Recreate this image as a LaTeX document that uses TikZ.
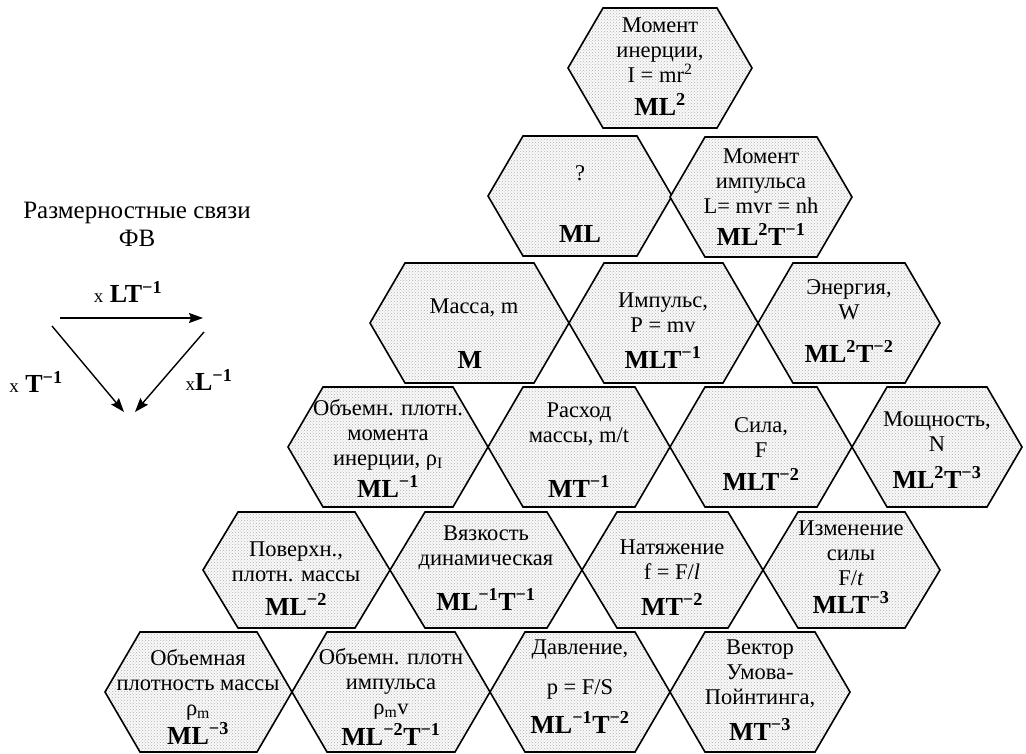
\documentclass[tikz,border=0pt]{standalone}
\usepackage{fontspec}
\setmainfont{Liberation Serif}
\newfontfamily\lserif{Liberation Serif}
\usetikzlibrary{patterns,arrows.meta}
\pgfdeclarelayer{background}
\pgfsetlayers{background,main}
\newcommand\hexcell[4]{%
  \begin{pgfonlayer}{background}
  \path[hexstyle] (#1,#3) -- ({#1+35},{#3-#4}) -- ({#2-35},{#3-#4}) -- (#2,#3)
     -- ({#2-35},{#3+#4}) -- ({#1+35},{#3+#4}) -- cycle;
  \end{pgfonlayer}}
\newcommand\sups[1]{\textsuperscript{#1}}
\begin{document}
\begin{tikzpicture}[x=1pt,y=-1pt,
  hexstyle/.style={draw=black, line width=1.6pt, line join=miter,
     preaction={fill=gray!5}, preaction={pattern=crosshatch dots, pattern color=gray!60}},
  txt/.style={align=center, inner sep=0pt, font=\lserif\fontsize{22.5}{25}\selectfont},
  dim/.style={anchor=base, inner sep=0pt, font=\lserif\fontsize{26}{28}\selectfont\bfseries},
  legend/.style={align=center, inner sep=0pt, font=\lserif\fontsize{25}{28}\selectfont},
  lab/.style={inner sep=0pt, font=\lserif\fontsize{26}{28}\selectfont},
  arr/.style={line width=1.4pt, -{Stealth[length=14pt,width=10pt,inset=2pt]}}]
\useasboundingbox (0,0) rectangle (1026,753);

% hexagon outlines
\hexcell{568}{752}{68}{60}
\hexcell{488}{672}{196}{60}
\hexcell{670}{852}{197}{60}
\hexcell{370}{569}{323}{60}
\hexcell{569}{758}{323}{60}
\hexcell{758}{940}{323}{60}
\hexcell{288}{488}{447}{60}
\hexcell{488}{670}{447}{60}
\hexcell{670}{852}{447}{60}
\hexcell{852}{1022}{447}{60}
\hexcell{203}{390}{570}{58}
\hexcell{390}{582}{570}{58}
\hexcell{582}{763}{570}{58}
\hexcell{763}{940}{570}{58}
\hexcell{105}{292}{692}{60}
\hexcell{292}{490}{692}{60}
\hexcell{490}{670}{692}{60}
\hexcell{670}{850}{692}{60}

% texts
\node[txt] (h1) at (660,50) {Момент\\инерции,\\I = mr\sups{2}};
\node[dim] (h1d) at (660,115) {ML\sups{2}};
\node[txt] (h2) at (580,173) {?};
\node[dim] (h2d) at (580,242) {ML};
\node[txt] (h3) at (761,181) {Момент\\импульса\\L= mvr = nh};
\node[dim] (h3d) at (761,245) {ML\sups{2}T\sups{−1}};
\node[txt] (h4) at (474,308) {Масса, m};
\node[dim] (h4d) at (470,368) {M};
\node[txt] (h5) at (663,313) {Импульс,\\P = mv};
\node[dim] (h5d) at (663,368) {MLT\sups{−1}};
\node[txt] (h6) at (849,300) {Энергия,\\W};
\node[dim] (h6d) at (849,362) {ML\sups{2}T\sups{−2}};
\node[txt] (h7) at (388,435) {Объемн. плотн.\\момента\\инерции, ρ\textsubscript{I}};
\node[dim] (h7d) at (388,497) {ML\sups{−1}};
\node[txt] (h8) at (579,424) {Расход\\массы, m/t};
\node[dim] (h8d) at (579,497) {MT\sups{−1}};
\node[txt] (h9) at (761,438) {Сила,\\F};
\node[dim] (h9d) at (761,490) {MLT\sups{−2}};
\node[txt] (h10) at (937,432) {Мощность,\\N};
\node[dim] (h10d) at (937,488) {ML\sups{2}T\sups{−3}};
\node[txt] (h11) at (296,562) {Поверхн.,\\плотн. массы};
\node[dim] (h11d) at (296,615) {ML\sups{−2}};
\node[txt] (h12) at (486,548) {Вязкость\\динамическая};
\node[dim] (h12d) at (486,610) {ML\sups{−1}T\sups{−1}};
\node[txt] (h13) at (672,560) {Натяжение\\f = F/\textit{l}};
\node[dim] (h13d) at (672,615) {MT\sups{−2}};
\node[txt] (h14) at (851,553) {Изменение\\силы\\F/\textit{t}};
\node[dim] (h14d) at (851,613) {MLT\sups{−3}};
\node[txt] (h15) at (198,685) {Объемная\\плотность массы\\ρ\textsubscript{m}};
\node[dim] (h15d) at (198,744) {ML\sups{−3}};
\node[txt] (h16) at (391,684) {Объемн. плотн\\импульса\\ρ\textsubscript{m}v};
\node[dim] (h16d) at (391,745) {ML\sups{−2}T\sups{−1}};
\node[txt] (h17) at (580,670) {Давление,\\[15pt]p = F/S};
\node[dim] (h17d) at (580,733) {ML\sups{−1}T\sups{−2}};
\node[txt] (h18) at (760,674) {Вектор\\Умова-\\Пойнтинга,};
\node[dim] (h18d) at (760,740) {MT\sups{−3}};

% legend
\node[legend] (title) at (137,224) {Размерностные связи\\ФВ};
\coordinate (a1) at (60,318);
\coordinate (a2) at (203,318);
\coordinate (b1) at (52,326);
\coordinate (b2) at (124,412);
\coordinate (c1) at (204,332);
\coordinate (c2) at (135,412);
\draw[arr] (a1) -- (a2);
\draw[arr] (b1) -- (b2);
\draw[arr] (c1) -- (c2);
\node[lab] (l1) at (128,292) {{\fontsize{19}{20}\selectfont x} \textbf{LT\sups{−1}}};
\node[lab] (l2) at (36,382) {{\fontsize{19}{20}\selectfont x} \textbf{T\sups{−1}}};
\node[lab] (l3) at (209,380) {{\fontsize{19}{20}\selectfont x}\textbf{L\sups{−1}}};
\end{tikzpicture}
\end{document}
